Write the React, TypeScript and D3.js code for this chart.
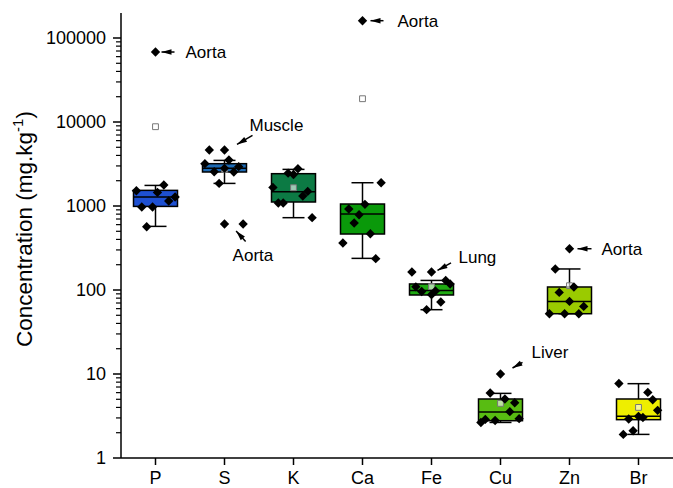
import * as d3 from "d3";

const elements = ["P", "S", "K", "Ca", "Fe", "Cu", "Zn", "Br"];
const boxColors = ["#1e50d2", "#1c6ab4", "#0c7a44", "#0a990a", "#1faa12", "#58bc12", "#9acb00", "#eeee00"];

// box statistics (mg/kg)
const q1 = [989, 2540, 1116, 464, 87.2, 2.78, 52.2, 2.86];
const median = [1280, 2805, 1480, 803, 98.9, 3.53, 73.2, 3.13];
const q3 = [1535, 3190, 2425, 1056, 118, 5.04, 108.6, 5.04];
const whiskerLow = [572, 1858, 726, 238, 58.3, 2.65, 52.2, 1.91];
const whiskerHigh = [1758, 3490, 2728, 1893, 130, 5.88, 178, 7.67];
const means = [8790, 2721, 1651, 18930, 109.7, 4.47, 112.5, 4.0];

// individual samples, with horizontal jitter (in steps)
const samples = [
  [1521, 1778, 1452, 973, 973, 1147, 1280, 567, 68100],
  [4645, 4645, 3530, 3190, 2560, 2805, 2540, 2940, 1858, 611, 611],
  [1665, 1086, 1086, 2460, 2370, 2780, 1316, 1493, 726],
  [1893, 921, 1046, 788, 628, 468, 363, 236, 160700],
  [164, 164, 130, 118, 109, 96, 97.5, 88, 72, 58.3],
  [10.0, 5.94, 5.04, 4.55, 3.56, 2.94, 2.8, 2.88, 2.65],
  [310, 178, 108.6, 93.6, 73.2, 63.8, 52.2, 52.2, 52.2],
  [7.7, 6.04, 4.94, 3.69, 2.91, 3.13, 3.04, 2.11, 1.91],
];
const jitter = [
  [-3.9, 1.7, 0.4, -2.8, -0.6, 2.7, 4.0, -1.8, 0],
  [-3.1, 0, 0.9, -4.0, -2.1, 0, 1.9, 2.9, -1.1, 0, 3.8],
  [-4.2, -3.1, -2.1, -1.1, 0, 0.9, 1.9, 2.9, 3.8],
  [3.8, -2.8, 0.5, -0.7, -1.7, 1.6, -4.0, 2.7, 0],
  [-4.0, 0, 2.9, 3.8, -3.2, -2.0, 0.8, 0, 1.9, -1.0],
  [0, -2.1, 0.9, 2.9, 1.9, 3.8, -1.1, -3.1, -4.0],
  [0, -2.9, 0.9, -2.1, 0, 2.9, -4.1, -1.0, 1.9],
  [-4.0, 1.9, 2.9, 3.9, -2.0, 0, 0.9, -1.1, -3.1],
];

const yTicks = [1, 10, 100, 1000, 10000, 100000];

// annotations: element, sample index, label
const notes = [
  { el: "P", idx: 8, text: "Aorta" },
  { el: "S", idx: 1, text: "Muscle" },
  { el: "S", idx: 10, text: "Aorta" },
  { el: "Ca", idx: 8, text: "Aorta" },
  { el: "Fe", idx: 1, text: "Lung" },
  { el: "Cu", idx: 0, text: "Liver" },
  { el: "Zn", idx: 0, text: "Aorta" },
];
// arrow tip, arrow tail, text anchor, relative to the sample point (px)
const noteLayout = [
  { tip: [6, 0], tail: [19, 0], txt: [30, 6] },
  { tip: [12.5, -5.5], tail: [28, -14.5], txt: [25, -18.5] },
  { tip: [-7, 7], tail: [2.5, 17.5], txt: [-10.5, 37.5] },
  { tip: [8, 0], tail: [21, 0], txt: [35, 6] },
  { tip: [6, -1.5], tail: [19.5, -9], txt: [27, -9] },
  { tip: [12, -6], tail: [22, -11.6], txt: [31, -16] },
  { tip: [8, 0], tail: [22, 0], txt: [32, 6] },
];

const W = 673;
const H = 488;
const left = 121;
const bottom = 458;

function App() {
  const x = d3.scaleBand().domain(elements).range([left, W]).padding(0);
  const y = d3.scaleLog().domain([1, 100000]).range([bottom, 38]);
  const topY = 13;
  const cx = (el: string) => (x(el) as number) + x.bandwidth() / 2;
  const boxW = 44;
  const capW = 22;
  const step = 4.9;
  const font = "Arial, 'Liberation Sans', sans-serif";

  const minor: number[] = [];
  for (let e = 0; e <= 5; e++) {
    for (let m = 2; m <= 9; m++) {
      const v = m * Math.pow(10, e);
      if (y(v) >= topY) minor.push(v);
    }
  }

  const diamond = d3.symbol().type(d3.symbolSquare).size(44)() as string;
  const meanSq = d3.symbol().type(d3.symbolSquare).size(34)() as string;

  const arrow = (tip: number[], tail: number[]) => {
    const dx = tail[0] - tip[0];
    const dy = tail[1] - tip[1];
    const len = Math.hypot(dx, dy);
    const ux = dx / len;
    const uy = dy / len;
    const L = Math.min(10, len);
    const hw = 2.8;
    const bx = tip[0] + ux * L;
    const by = tip[1] + uy * L;
    const p = `M${tip[0]},${tip[1]}L${bx - uy * hw},${by + ux * hw}L${bx + uy * hw},${by - ux * hw}Z`;
    return (
      <g>
        <line x1={tip[0]} y1={tip[1]} x2={tail[0]} y2={tail[1]} stroke="#000" strokeWidth={1.5} />
        <path d={p} fill="#000" />
      </g>
    );
  };

  return (
    <svg width={W} height={H} style={{ position: "absolute", left: 0, top: 0, background: "#fff" }} fontFamily={font}>
      {/* boxes */}
      {elements.map((el, i) => {
        const c = cx(el);
        return (
          <g key={el} stroke="#000" strokeWidth={1.5}>
            <line x1={c} x2={c} y1={y(whiskerHigh[i])} y2={y(q3[i])} />
            <line x1={c} x2={c} y1={y(q1[i])} y2={y(whiskerLow[i])} />
            <line x1={c - capW / 2} x2={c + capW / 2} y1={y(whiskerHigh[i])} y2={y(whiskerHigh[i])} />
            <line x1={c - capW / 2} x2={c + capW / 2} y1={y(whiskerLow[i])} y2={y(whiskerLow[i])} />
            <rect x={c - boxW / 2} y={y(q3[i])} width={boxW} height={y(q1[i]) - y(q3[i])} fill={boxColors[i]} />
            <line x1={c - boxW / 2} x2={c + boxW / 2} y1={y(median[i])} y2={y(median[i])} />
            <path d={meanSq} transform={`translate(${c},${y(means[i])})`} fill="#fff" fillOpacity={0.6} stroke="#777" strokeWidth={1} />
          </g>
        );
      })}
      {/* samples */}
      {elements.map((el, i) => (
        <g key={"s" + el}>
          {samples[i].map((v, j) => (
            <path key={j} d={diamond} fill="#000" transform={`translate(${cx(el) + jitter[i][j] * step},${y(v)}) rotate(45)`} />
          ))}
        </g>
      ))}
      {/* annotations */}
      {notes.map((n, k) => {
        const i = elements.indexOf(n.el);
        const px = cx(n.el) + jitter[i][n.idx] * step;
        const py = y(samples[i][n.idx]);
        const l = noteLayout[k];
        return (
          <g key={"n" + k}>
            {arrow([px + l.tip[0], py + l.tip[1]], [px + l.tail[0], py + l.tail[1]])}
            <text x={px + l.txt[0]} y={py + l.txt[1]} fontSize={17} fill="#000">{n.text}</text>
          </g>
        );
      })}
      {/* y axis */}
      <line x1={left} x2={left} y1={topY} y2={bottom} stroke="#000" strokeWidth={1.5} />
      {minor.map((v) => (
        <line key={v} x1={left - 5} x2={left} y1={y(v)} y2={y(v)} stroke="#000" strokeWidth={1.2} />
      ))}
      {yTicks.map((v) => (
        <g key={v}>
          <line x1={left - 8} x2={left} y1={y(v)} y2={y(v)} stroke="#000" strokeWidth={1.5} />
          <text x={left - 15} y={y(v)} dy="0.36em" textAnchor="end" fontSize={18}>{d3.format("d")(v)}</text>
        </g>
      ))}
      {/* x axis */}
      <line x1={left} x2={W} y1={bottom} y2={bottom} stroke="#000" strokeWidth={1.5} />
      {elements.map((el) => (
        <g key={"x" + el}>
          <line x1={cx(el)} x2={cx(el)} y1={bottom} y2={bottom + 7} stroke="#000" strokeWidth={1.5} />
          <text x={cx(el)} y={bottom + 26} textAnchor="middle" fontSize={18}>{el}</text>
        </g>
      ))}
      <text transform={`translate(32,229) rotate(-90)`} textAnchor="middle" fontSize={22.5}>
        Concentration (mg.kg<tspan dy={-9} fontSize={15}>-1</tspan><tspan dy={9}>)</tspan>
      </text>
    </svg>
  );
}

export default App;
